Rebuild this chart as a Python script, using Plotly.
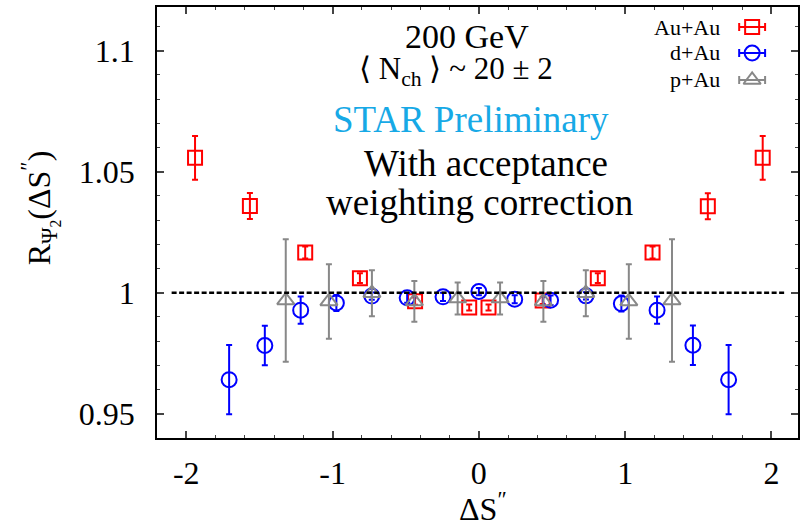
import plotly.graph_objects as go

# R_Psi2(ΔS'') versus ΔS'' for three collision systems at 200 GeV
au_x = [-1.94, -1.565, -1.187, -0.813, -0.436, -0.066, 0.066, 0.436, 0.813, 1.187, 1.565, 1.94]
au_y = [1.0557, 1.0358, 1.0166, 1.0060, 0.9965, 0.9939, 0.9939, 0.9968, 1.0060, 1.0166, 1.0357, 1.0557]
au_err = [0.0090, 0.0054, 0.0025, 0.0020, 0.0015, 0.0012, 0.0012, 0.0015, 0.0020, 0.0025, 0.0054, 0.0090]

d_x = [-1.707, -1.463, -1.218, -0.974, -0.732, -0.49, -0.245, 0.0, 0.245, 0.49, 0.732, 0.974, 1.218, 1.463, 1.707]
d_y = [0.9641, 0.9782, 0.9928, 0.9958, 0.9986, 0.9979, 0.9983, 1.0005, 0.9973, 0.9969, 0.9987, 0.9955, 0.9928, 0.9783, 0.9641]
d_err = [0.0143, 0.0082, 0.0056, 0.0033, 0.0015, 0.0020, 0.0017, 0.0015, 0.0017, 0.0020, 0.0015, 0.0033, 0.0056, 0.0082, 0.0143]

p_x = [-1.32, -1.025, -0.731, -0.441, -0.145, 0.145, 0.441, 0.731, 1.025, 1.32]
p_y = [0.9968, 0.9964, 0.9998, 0.9964, 0.9976, 0.9976, 0.9964, 0.9998, 0.9964, 0.9968]
p_err = [0.0253, 0.0154, 0.0095, 0.0084, 0.0066, 0.0066, 0.0084, 0.0095, 0.0154, 0.0253]

series_names = ["Au+Au", "d+Au", "p+Au"]
series_colors = ["#ff0000", "#0000ff", "#888888"]
series_symbols = ["square-open", "circle-open", "triangle-up-open"]
series_sizes = [14, 15, 15]

x_ticks = [-2, -1, 0, 1, 2]
x_tick_text = ["-2", "-1", "0", "1", "2"]
y_ticks = [0.95, 1.0, 1.05, 1.1]
y_tick_text = ["0.95", "1", "1.05", "1.1"]
ref_level = 1.0
ref_span = [-2.1, 2.1]

FONT = "Liberation Serif"
W, H = 800, 529
L, R, T, B = 157, 0, 7, 91
PW, PH = W - L - R, H - T - B


def px(xp):
    return (xp - L) / PW


def py(yp):
    return (H - B - yp) / PH


fig = go.Figure()

data = [(au_x, au_y, au_err), (d_x, d_y, d_err), (p_x, p_y, p_err)]
for (xs, ys, es), name, col, sym, sz in zip(data, series_names, series_colors,
                                            series_symbols, series_sizes):
    fig.add_trace(go.Scatter(
        x=xs, y=ys, mode="markers", name=name, showlegend=False,
        marker=dict(symbol=sym, size=sz, color=col, line=dict(width=2, color=col)),
        error_y=dict(type="data", array=es, visible=True, color=col,
                     thickness=2, width=3),
    ))

# legend keys drawn on a pixel-scaled overlay axis: text on the left, key on the right
key_x = 754
key_rows = [27, 53, 80]
for name, col, sym, sz, ky in zip(series_names, series_colors, series_symbols,
                                  series_sizes, key_rows):
    fig.add_trace(go.Scatter(
        x=[key_x], y=[ky], xaxis="x2", yaxis="y2", mode="markers", showlegend=False,
        marker=dict(symbol=sym, size=sz, color=col, line=dict(width=2, color=col)),
        error_x=dict(type="constant", value=13, visible=True, color=col,
                     thickness=2, width=4),
    ))
    fig.add_annotation(x=px(724), y=py(ky), xref="paper", yref="paper",
                       text=name, showarrow=False, xanchor="right", yanchor="middle",
                       font=dict(family=FONT, size=22, color="black"))

fig.add_shape(type="line", xref="x", yref="y", x0=ref_span[0], x1=ref_span[1],
              y0=ref_level, y1=ref_level,
              line=dict(color="black", width=2.5, dash="5px,2.5px"))

texts = [
    ("200 GeV", 468, 36, 34, "black"),
    ("⟨ N<sub>ch</sub> ⟩ ~ 20 ± 2", 457, 71, 31, "black"),
    ("STAR Preliminary", 472, 120, 37, "#17a9e6"),
    ("With acceptance", 487, 163, 37, "black"),
    ("weighting correction", 481, 202, 37, "black"),
]
for txt, xx, yy, fs, col in texts:
    fig.add_annotation(x=px(xx), y=py(yy), xref="paper", yref="paper", text=txt,
                       showarrow=False, xanchor="center", yanchor="middle",
                       font=dict(family=FONT, size=fs, color=col))

fig.add_annotation(x=px(40), y=py(208), xref="paper", yref="paper",
                   text="R<sub>Ψ<sub>2</sub></sub>(ΔS<sup>″</sup>)", textangle=-90,
                   showarrow=False, xanchor="center", yanchor="middle",
                   font=dict(family=FONT, size=32, color="black"))
fig.add_annotation(x=px(484), y=py(507), xref="paper", yref="paper",
                   text="ΔS<sup>″</sup>", showarrow=False,
                   xanchor="center", yanchor="middle",
                   font=dict(family=FONT, size=32, color="black"))

fig.update_layout(
    width=W, height=H,
    margin=dict(l=L, r=R, t=T, b=B),
    paper_bgcolor="white", plot_bgcolor="white",
    font=dict(family=FONT, size=32, color="black"),
    xaxis=dict(range=[-2.2, 2.1813], tickvals=x_ticks, ticktext=x_tick_text,
               ticks="inside", ticklen=7,
               tickwidth=1.5, showline=True, linecolor="black", linewidth=1.5,
               mirror="allticks", showgrid=False, zeroline=False,
               ticklabelstandoff=6,
               minor=dict(dtick=0.2, ticks="inside", ticklen=3.5, tickwidth=1,
                          showgrid=False)),
    yaxis=dict(range=[0.94, 1.118], tickvals=y_ticks, ticktext=y_tick_text,
               ticks="inside", ticklen=7, tickwidth=1.5, showline=True,
               linecolor="black", linewidth=1.5, mirror="allticks",
               showgrid=False, zeroline=False, ticklabelstandoff=14,
               minor=dict(dtick=0.01, ticks="inside", ticklen=3.5, tickwidth=1,
                          showgrid=False)),
    xaxis2=dict(range=[L, W - R], overlaying="x", visible=False),
    yaxis2=dict(range=[H - B, T], overlaying="y", visible=False),
)

fig.write_html("out.html")
